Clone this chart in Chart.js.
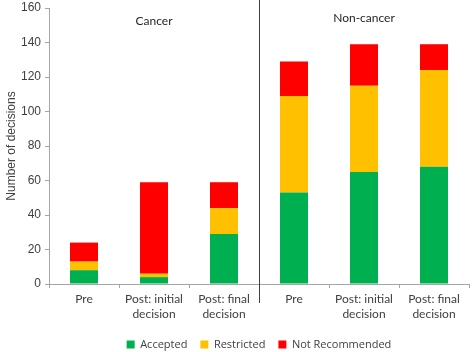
<!DOCTYPE html>
<html>
<head>
<meta charset="utf-8">
<script src="https://cdn.jsdelivr.net/npm/chart.js@4"></script>
<style>
  html, body { margin: 0; padding: 0; background: #fff; }
  #wrap { width: 472px; height: 352px; }
</style>
</head>
<body>
<div id="wrap"><canvas id="grafico" width="472" height="352"></canvas></div>
<script>
// dados
const categorias = [
    ["Pre"], ["Post: initial", "decision"], ["Post: final", "decision"],
    ["Pre"], ["Post: initial", "decision"], ["Post: final", "decision"]
];
const grupos = ["Cancer", "Non-cancer"];
const aceitos = [8, 4, 29, 53, 65, 68];
const restritos = [5, 2, 15, 56, 50, 56];
const naoRecomendados = [11, 53, 15, 20, 24, 15];
const ticksY = [0, 20, 40, 60, 80, 100, 120, 140, 160];

const corTexto = '#404040';
const corEixo = '#a6a6a6';

// linha separadora e rótulos dos grupos
const separador = {
    id: 'separador',
    afterLayout(chart) {
        // centraliza a legenda sobre a área do gráfico
        const lg = chart.legend;
        const ca = chart.chartArea;
        const d = (ca.left + ca.right) / 2 - (lg.left + lg.right) / 2;
        lg.left += d;
        lg.right += d;
    },
    afterDraw(chart) {
        const { ctx, chartArea, scales } = chart;
        const xs = scales.x;
        const meio = (xs.getPixelForValue(2) + xs.getPixelForValue(3)) / 2;
        ctx.save();
        ctx.strokeStyle = '#404040';
        ctx.lineWidth = 1;
        ctx.beginPath();
        ctx.moveTo(Math.round(meio) + 0.5, 0);
        ctx.lineTo(Math.round(meio) + 0.5, chartArea.bottom + 19);
        ctx.stroke();
        ctx.fillStyle = '#262626';
        ctx.font = '12px Lato, sans-serif';
        ctx.textAlign = 'center';
        ctx.textBaseline = 'middle';
        ctx.fillText(grupos[0], xs.getPixelForValue(1), 21);
        ctx.fillText(grupos[1], xs.getPixelForValue(4), 18);
        ctx.restore();
    }
};

new Chart(document.getElementById('grafico'), {
    type: 'bar',
    data: {
        labels: categorias,
        datasets: [
            { label: 'Accepted', data: aceitos, backgroundColor: '#00b050' },
            { label: 'Restricted', data: restritos, backgroundColor: '#ffc000' },
            { label: 'Not Recommended', data: naoRecomendados, backgroundColor: '#ff0000' }
        ]
    },
    options: {
        responsive: false,
        animation: false,
        layout: { padding: { top: 8, right: 3, left: 0, bottom: -8 } },
        datasets: { bar: { categoryPercentage: 1, barPercentage: 0.4 } },
        plugins: {
            legend: {
                position: 'bottom',
                labels: {
                    boxWidth: 8, boxHeight: 8, padding: 13,
                    color: corTexto,
                    font: { family: '"Open Sans", sans-serif', size: 11 }
                }
            },
            tooltip: { enabled: false }
        },
        scales: {
            x: {
                stacked: true,
                grid: { drawOnChartArea: false, drawTicks: true, tickLength: 4, color: corEixo, offset: true },
                border: { color: corEixo },
                ticks: {
                    color: corTexto, maxRotation: 0, autoSkip: false, padding: 4,
                    font: { family: 'Lato, sans-serif', size: 12, lineHeight: 1.25 }
                }
            },
            y: {
                stacked: true,
                min: 0, max: 160,
                afterBuildTicks: s => { s.ticks = ticksY.map(v => ({ value: v })); },
                afterFit: s => { s.width = 49; s.paddingTop = 0; },
                grid: { drawOnChartArea: false, drawTicks: true, tickLength: 4, color: corEixo },
                border: { color: corEixo },
                ticks: {
                    color: corTexto, padding: 4,
                    font: { family: '"Liberation Sans", Arial, sans-serif', size: 12 }
                },
                title: {
                    display: true, text: 'Number of decisions', color: corTexto, padding: { top: 4, bottom: 0 },
                    font: { family: '"Liberation Sans", Arial, sans-serif', size: 12 }
                }
            }
        }
    },
    plugins: [separador]
});
</script>
</body>
</html>
